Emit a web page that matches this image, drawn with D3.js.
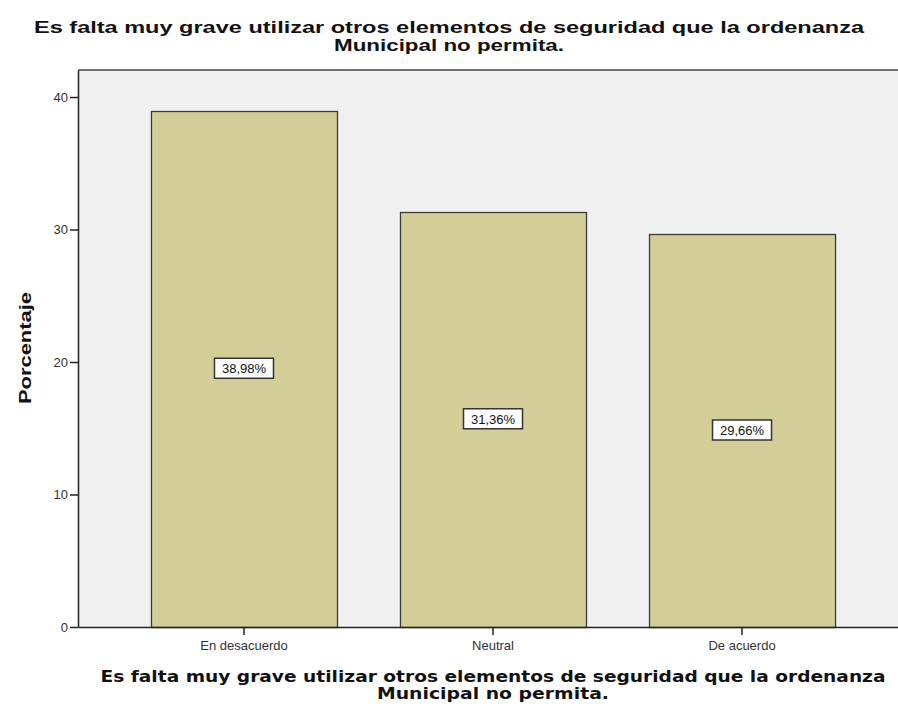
<!DOCTYPE html>
<html>
<head>
<meta charset="utf-8">
<script src="https://cdn.jsdelivr.net/npm/d3@7"></script>
<style>
  body { margin: 0; background: #fff; }
  svg { display: block; }
</style>
</head>
<body>
<div id="chart"></div>
<script>
// datos
var categories = ["En desacuerdo", "Neutral", "De acuerdo"];
var percents = [38.98, 31.36, 29.66];
var yTicks = [0, 10, 20, 30, 40];
var titleLines = ["Es falta muy grave utilizar otros elementos de seguridad que la ordenanza", "Municipal no permita."];
var yTitle = "Porcentaje";

var width = 898, height = 714;
var plotLeft = 78, plotRight = 908, plotTop = 70, plotBottom = 627;

var svg = d3.select("#chart").append("svg").attr("width", width).attr("height", height);

var x = d3.scaleBand()
  .domain(categories)
  .range([plotLeft, plotRight])
  .paddingInner(0.253)
  .paddingOuter(0.293);

var y = d3.scaleLinear().domain([0, 42.04]).range([plotBottom, plotTop]);

// fondo
svg.append("rect")
  .attr("x", plotLeft).attr("y", plotTop)
  .attr("width", plotRight - plotLeft).attr("height", plotBottom - plotTop)
  .attr("fill", "#f0f0f0");
svg.append("line")
  .attr("x1", plotLeft).attr("x2", plotRight).attr("y1", plotTop).attr("y2", plotTop)
  .attr("stroke", "#707070").attr("stroke-width", 2);

// barras
svg.append("g").selectAll("rect")
  .data(percents)
  .enter().append("rect")
  .attr("x", function (d, i) { return x(categories[i]) + 0.5; })
  .attr("y", function (d) { return Math.round(y(d)) + 0.5; })
  .attr("width", x.bandwidth())
  .attr("height", function (d) { return plotBottom - Math.round(y(d)); })
  .attr("fill", "#d3ce97")
  .attr("stroke", "#3a3a3a")
  .attr("stroke-width", 1.3);

// etiquetas
var lab = svg.append("g").selectAll("g")
  .data(percents)
  .enter().append("g")
  .attr("transform", function (d, i) {
    return "translate(" + (x(categories[i]) + x.bandwidth() / 2) + "," + y(d / 2) + ")";
  });
lab.append("rect")
  .attr("x", -29.5).attr("y", -10.5).attr("width", 59).attr("height", 20)
  .attr("fill", "#fff").attr("stroke", "#333").attr("stroke-width", 1.5);
lab.append("text")
  .attr("text-anchor", "middle").attr("dy", "0.35em")
  .style("font", "13px 'Liberation Sans', Arial, sans-serif")
  .attr("fill", "#111")
  .text(function (d) { return d.toFixed(2).replace(".", ",") + "%"; });

// eje y
var yAxis = svg.append("g")
  .attr("transform", "translate(" + plotLeft + ",0)")
  .call(d3.axisLeft(y).tickValues(yTicks).tickSize(8).tickSizeOuter(0).tickPadding(2));
yAxis.select(".domain").attr("stroke", "#222").attr("stroke-width", 1.5);
yAxis.selectAll(".tick line").attr("stroke", "#222").attr("stroke-width", 1.5);
yAxis.selectAll(".tick text")
  .style("font", "13px 'Liberation Sans', Arial, sans-serif").attr("fill", "#333");

// eje x
var xAxis = svg.append("g")
  .attr("transform", "translate(0," + plotBottom + ")")
  .call(d3.axisBottom(x).tickSize(8).tickSizeOuter(0).tickPadding(6));
xAxis.select(".domain").attr("stroke", "#222").attr("stroke-width", 1.5);
xAxis.selectAll(".tick line").attr("stroke", "#222").attr("stroke-width", 1.5);
xAxis.selectAll(".tick text")
  .style("font", "13px 'Liberation Sans', Arial, sans-serif").attr("fill", "#333");

// titulos
var topWidths = [830, 230];
svg.append("g").selectAll("text")
  .data(titleLines)
  .enter().append("text")
  .attr("x", width / 2)
  .attr("y", function (d, i) { return 33 + i * 18; })
  .attr("text-anchor", "middle")
  .attr("textLength", function (d, i) { return topWidths[i]; })
  .attr("lengthAdjust", "spacingAndGlyphs")
  .style("font", "bold 17px 'Liberation Sans', Arial, sans-serif")
  .attr("fill", "#111")
  .text(function (d) { return d; });

var bottomWidths = [785, 232];
svg.append("g").selectAll("text")
  .data(titleLines)
  .enter().append("text")
  .attr("x", (plotLeft + plotRight) / 2)
  .attr("y", function (d, i) { return 682 + i * 17; })
  .attr("text-anchor", "middle")
  .attr("textLength", function (d, i) { return bottomWidths[i]; })
  .attr("lengthAdjust", "spacingAndGlyphs")
  .style("font", "bold 15px 'DejaVu Sans', Verdana, sans-serif")
  .attr("fill", "#111")
  .text(function (d) { return d; });

svg.append("text")
  .attr("transform", "translate(31," + 348 + ") rotate(-90)")
  .attr("text-anchor", "middle")
  .attr("textLength", 112)
  .attr("lengthAdjust", "spacingAndGlyphs")
  .style("font", "bold 17px 'Liberation Sans', Arial, sans-serif")
  .attr("fill", "#111")
  .text(yTitle);
</script>
</body>
</html>
